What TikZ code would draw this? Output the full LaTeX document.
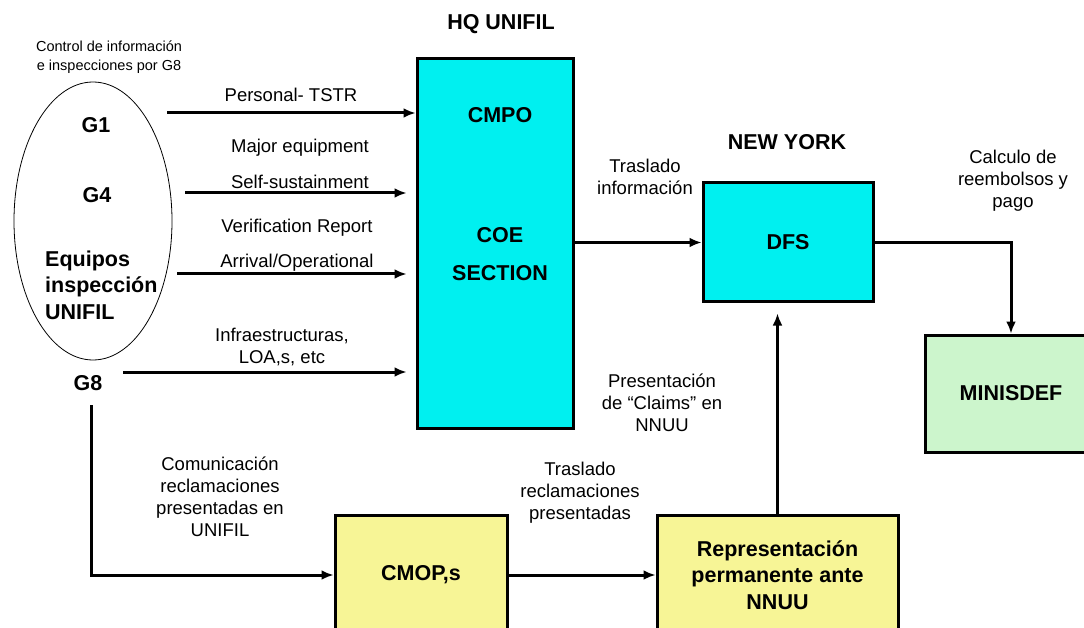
\documentclass[tikz,border=0pt]{standalone}
\usepackage{fontspec}
\setmainfont{Liberation Sans}
\usetikzlibrary{arrows.meta,shapes.geometric}
\definecolor{cCyan}{RGB}{0,240,240}
\definecolor{cYellow}{RGB}{247,245,150}
\definecolor{cGreen}{RGB}{204,245,204}
\tikzset{
  box/.style={draw, line width=3pt, inner sep=0pt},
  arr/.style={-{Latex[length=12pt,width=10pt]}, line width=3pt},
  txt/.style={align=center, inner sep=0pt, font=\fontsize{18.5}{22}\selectfont},
  bold/.style={align=center, inner sep=0pt, font=\fontsize{21.5}{26.5}\selectfont\bfseries},
}

\begin{document}
\begin{tikzpicture}[x=1pt,y=-1pt]
        \useasboundingbox (0,0) rectangle (1084,628);
        \clip (0,0) rectangle (1084,628);

        \node[bold] (hq) at (501,24) {HQ UNIFIL};
        \node[txt, font=\fontsize{14.5}{19}\selectfont] (ctrl) at (109,57) {Control de información\\e inspecciones por G8};
        \node[draw, ellipse, line width=0.8pt, inner sep=0pt, minimum width=158, minimum height=278] (ell) at (93,221) {};
        \node[bold] (g1) at (96,125) {G1};
        \node[bold] (g4) at (97,195) {G4};
        \node[bold, align=left, anchor=west] (eq) at (45,285) {Equipos\\inspección\\UNIFIL};
        \node[bold] (g8) at (88,383) {G8};

        \node[box, fill=cCyan, minimum width=156, minimum height=369] (cmpo) at (495,243.5) {};
        \node[bold] (cmpot) at (500,115) {CMPO};
        \node[bold] (coe) at (500,235) {COE};
        \node[bold] (sec) at (500,273) {SECTION};

        \node[bold] (ny) at (787,142) {NEW YORK};
        \node[box, bold, fill=cCyan, minimum width=170, minimum height=119] (dfs) at (788,242.5) {DFS};
        \node[box, bold, fill=cGreen, minimum width=172, minimum height=117] (mind) at (1011,393.5) {MINISDEF};
        \node[box, bold, fill=cYellow, minimum width=172, minimum height=120] (cmop) at (421,575) {CMOP,s};
        \node[box, bold, fill=cYellow, minimum width=241, minimum height=120] (rep) at (777.5,575) {Representación\\permanente ante\\NNUU};

        \node[txt] (l1) at (291,95) {Personal- TSTR};
        \node[txt] (l2) at (300,148) {Major equipment};
        \node[txt] (l3) at (300,182) {Self-sustainment};
        \node[txt] (l4) at (297,228) {Verification Report};
        \node[txt] (l5) at (297,263) {Arrival/Operational};
        \node[txt] (l6) at (282,347) {Infraestructuras,\\LOA,s, etc};
        \node[txt] (l7) at (645,177) {Traslado\\información};
        \node[txt] (l8) at (1013,181) {Calculo de\\reembolsos y\\pago};
        \node[txt] (l9) at (662,403) {Presentación\\de “Claims” en\\NNUU};
        \node[txt] (l10) at (580,493) {Traslado\\reclamaciones\\presentadas};
        \node[txt] (l11) at (220,497) {Comunicación\\reclamaciones\\presentadas en\\UNIFIL};

        \coordinate (a1) at (167,113);
        \coordinate (a2) at (185,193);
        \coordinate (a3) at (177,274);
        \coordinate (a4) at (123,372);
        \coordinate (g8d) at (91,405);

        \draw[arr] (a1) -- (a1 -| cmpo.west);
        \draw[arr, shorten >=9pt] (a2) -- (a2 -| cmpo.west);
        \draw[arr, shorten >=9pt] (a3) -- (a3 -| cmpo.west);
        \draw[arr, shorten >=9pt] (a4) -- (a4 -| cmpo.west);
        \draw[arr] (cmpo.east |- dfs.west) -- (dfs.west);
        \draw[arr] (dfs.east) -| (mind.north);
        \draw[arr, shorten >=10pt] (rep.north) -- (rep.north |- dfs.south);
        \draw[arr] (g8d) |- (cmop.west);
        \draw[arr] (cmop.east) -- (rep.west);
\end{tikzpicture}
\end{document}
